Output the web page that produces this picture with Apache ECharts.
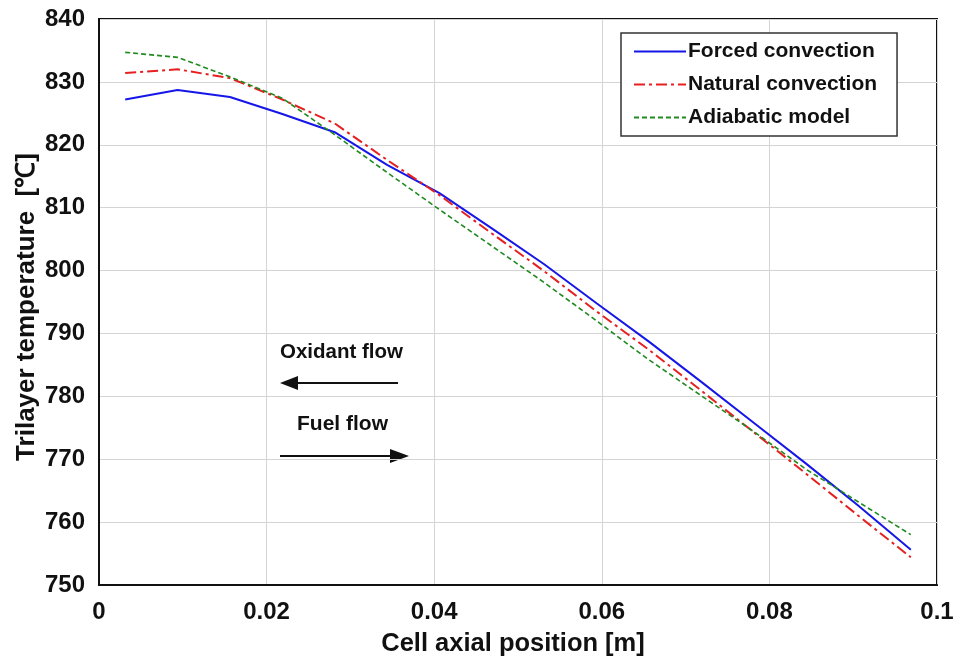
<!DOCTYPE html>
<html>
<head>
<meta charset="utf-8">
<script src="https://cdn.jsdelivr.net/npm/echarts@6/dist/echarts.min.js"></script>
<style>
html,body{margin:0;padding:0;background:#fff;}
#c{width:958px;height:662px;}
</style>
</head>
<body>
<div id="c"></div>
<script>
const positions = [0.003125, 0.009375, 0.015625, 0.021875, 0.028125, 0.034375, 0.040625, 0.046875,
                   0.053125, 0.059375, 0.065625, 0.071875, 0.078125, 0.084375, 0.090625, 0.096875];
const forcedConvection = [827.2, 828.7, 827.6, 824.9, 822.0, 816.8, 812.3, 806.7, 801.0, 794.8, 788.7, 782.3, 775.8, 769.3, 762.6, 755.6];
const naturalConvection = [831.4, 832.0, 830.6, 827.2, 823.4, 817.6, 812.0, 805.9, 799.9, 793.5, 787.4, 780.9, 774.3, 767.7, 761.0, 754.4];
const adiabaticModel = [834.7, 833.9, 830.8, 827.4, 821.6, 815.6, 809.7, 803.9, 798.1, 792.0, 785.8, 780.1, 774.4, 768.4, 763.2, 758.0];
const seriesNames = ['Forced convection', 'Natural convection', 'Adiabatic model'];
const xTicks = [0, 0.02, 0.04, 0.06, 0.08, 0.1];
const yTicks = [750, 760, 770, 780, 790, 800, 810, 820, 830, 840];

const FONT = '"Liberation Sans", Arial, Helvetica, sans-serif';
const pairs = arr => positions.map((x, i) => [x, arr[i]]);

const chart = echarts.init(document.getElementById('c'), null, {renderer: 'canvas'});
chart.setOption({
  backgroundColor: '#fff',
  animation: false,
  textStyle: {fontFamily: FONT},
  grid: {left: 99, right: 21, top: 19, bottom: 77, show: true, borderColor: '#111', borderWidth: 2, containLabel: false},
  legend: {
    orient: 'vertical', left: 621, top: 33,
    backgroundColor: '#fff', borderColor: '#333', borderWidth: 1.5,
    padding: [8, 20, 8, 12], itemGap: 12, itemWidth: 52, itemHeight: 14,
    itemStyle: {opacity: 0},
    textStyle: {fontFamily: FONT, fontWeight: 'bold', fontSize: 21, color: '#111', padding: [0, 0, 0, -3]},
    data: seriesNames
  },
  xAxis: {
    type: 'value', min: 0, max: 0.1, interval: 0.02,
    name: 'Cell axial position [m]', nameLocation: 'middle', nameGap: 46,
    nameTextStyle: {fontFamily: FONT, fontWeight: 'bold', fontSize: 25.5, color: '#111', padding: [0, 10, 0, 0]},
    axisLine: {show: true, lineStyle: {color: '#111', width: 2}},
    axisTick: {show: false},
    axisLabel: {fontFamily: FONT, fontWeight: 'bold', fontSize: 24, color: '#111', margin: 15,
      formatter: v => { const t = xTicks.find(k => Math.abs(k - v) < 1e-9); return t === undefined ? '' : String(t); }},
    splitLine: {show: true, lineStyle: {color: '#d4d4d4', width: 1}}
  },
  yAxis: {
    type: 'value', min: 750, max: 840, interval: 10,
    name: 'Trilayer temperature  [\u2103]', nameLocation: 'middle', nameGap: 59, nameMoveOverlap: false,
    nameTextStyle: {fontFamily: FONT, fontWeight: 'bold', fontSize: 26, color: '#111', padding: [0, 10, 0, 0]},
    axisLine: {show: true, lineStyle: {color: '#111', width: 2}},
    axisTick: {show: false},
    axisLabel: {fontFamily: FONT, fontWeight: 'bold', fontSize: 24, color: '#111', margin: 14,
      formatter: v => yTicks.includes(Math.round(v)) ? String(Math.round(v)) : ''},
    splitLine: {show: true, lineStyle: {color: '#d4d4d4', width: 1}}
  },
  series: [
    {name: seriesNames[0], type: 'line', data: pairs(forcedConvection), symbol: 'none', z: 3,
     lineStyle: {color: '#1616e8', width: 2, type: 'solid'}, itemStyle: {color: '#1616e8'}},
    {name: seriesNames[1], type: 'line', data: pairs(naturalConvection), symbol: 'none', z: 4,
     lineStyle: {color: '#e62020', width: 2, type: [11, 4, 3, 4]}, itemStyle: {color: '#e62020'}},
    {name: seriesNames[2], type: 'line', data: pairs(adiabaticModel), symbol: 'none', z: 5,
     lineStyle: {color: '#1f8a1f', width: 1.6, type: [5, 3]}, itemStyle: {color: '#1f8a1f'}}
  ],
  graphic: [
    {type: 'text', left: 280, top: 342, style: {text: 'Oxidant flow', font: 'bold 20.5px ' + FONT, fill: '#111'}},
    {type: 'line', shape: {x1: 398, y1: 383, x2: 296, y2: 383}, style: {stroke: '#111', lineWidth: 2}},
    {type: 'polygon', shape: {points: [[280, 383], [298, 376], [298, 390]]}, style: {fill: '#111'}},
    {type: 'text', left: 297, top: 414, style: {text: 'Fuel flow', font: 'bold 21px ' + FONT, fill: '#111'}},
    {type: 'line', shape: {x1: 280, y1: 456, x2: 392, y2: 456}, style: {stroke: '#111', lineWidth: 2}},
    {type: 'polygon', shape: {points: [[409, 456], [390, 449], [390, 463]]}, style: {fill: '#111'}}
  ]
});
</script>
</body>
</html>
